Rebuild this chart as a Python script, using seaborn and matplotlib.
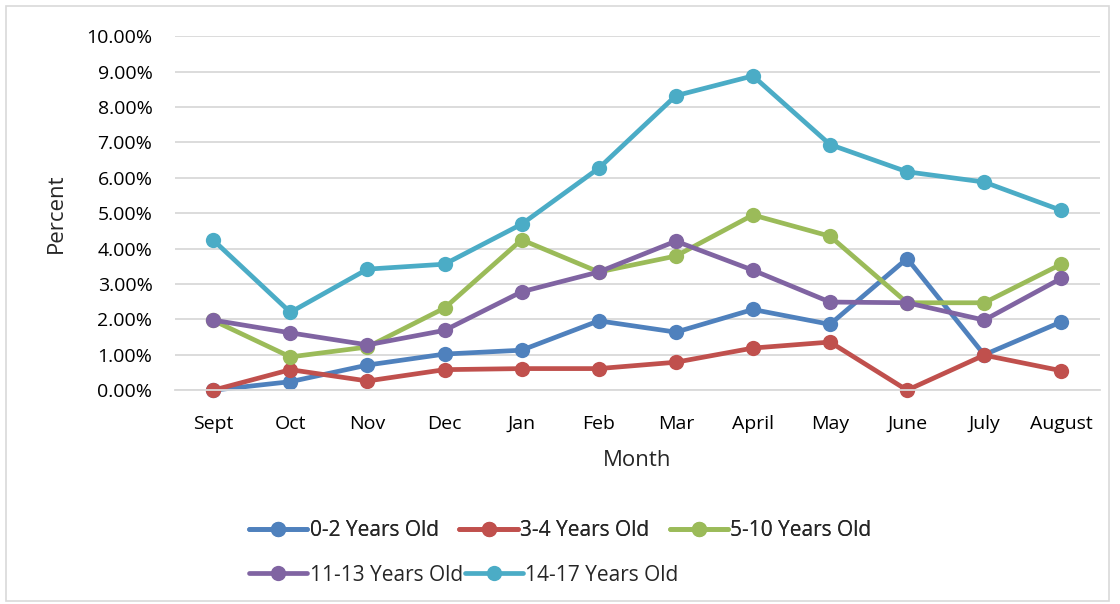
import matplotlib.pyplot as plt
import matplotlib.patches as patches
from matplotlib.lines import Line2D
from matplotlib.ticker import PercentFormatter
import seaborn as sns
import pandas as pd

months = ['Sept', 'Oct', 'Nov', 'Dec', 'Jan', 'Feb', 'Mar', 'April', 'May', 'June', 'July', 'August']
groups = ['0-2 Years Old', '3-4 Years Old', '5-10 Years Old', '11-13 Years Old', '14-17 Years Old']

age_0_2 = [0.00, 0.24, 0.71, 1.02, 1.13, 1.96, 1.64, 2.28, 1.86, 3.72, 1.00, 1.93]
age_3_4 = [0.00, 0.58, 0.26, 0.58, 0.61, 0.61, 0.79, 1.19, 1.36, 0.00, 0.99, 0.55]
age_5_10 = [1.97, 0.94, 1.22, 2.32, 4.25, 3.34, 3.79, 4.95, 4.35, 2.47, 2.47, 3.56]
age_11_13 = [1.98, 1.62, 1.28, 1.69, 2.78, 3.34, 4.21, 3.39, 2.49, 2.47, 1.98, 3.16]
age_14_17 = [4.24, 2.20, 3.42, 3.56, 4.69, 6.27, 8.32, 8.88, 6.94, 6.17, 5.88, 5.08]

colors = ['#4F81BD', '#C0504D', '#9BBB59', '#8064A2', '#4BACC6']

series = [age_0_2, age_3_4, age_5_10, age_11_13, age_14_17]
rows = []
for g, vals in zip(groups, series):
    for m, v in zip(months, vals):
        rows.append({'Month': m, 'Percent': v / 100, 'Group': g})
df = pd.DataFrame(rows)
df['Month'] = pd.Categorical(df['Month'], categories=months, ordered=True)

sns.set_style('white')
plt.rcParams['font.family'] = ['Open Sans', 'DejaVu Sans']

fig = plt.figure(figsize=(11.2, 6.04), dpi=100)
ax = fig.add_axes([0.156, 0.354, 0.826, 0.586])

sns.lineplot(data=df, x='Month', y='Percent', hue='Group', palette=colors,
             marker='o', markersize=11, markeredgewidth=0, linewidth=3.4,
             sort=False, legend=False, ax=ax)
for ln in ax.lines:
    ln.set_clip_on(False)

ax.set_xlim(-0.5, 11.5)
ax.set_ylim(0, 0.10)
ax.set_yticks([i / 100 for i in range(11)])
ax.yaxis.set_major_formatter(PercentFormatter(1.0, decimals=2))
ax.grid(axis='y', color='#d9d9d9', linewidth=1.3)
ax.set_axisbelow(True)
for s in ['top', 'right', 'left']:
    ax.spines[s].set_visible(False)
ax.spines['bottom'].set_color('#d9d9d9')
ax.spines['bottom'].set_linewidth(1.3)
ax.tick_params(axis='both', length=0, labelsize=14, colors='black')
ax.tick_params(axis='x', pad=18)
ax.tick_params(axis='y', pad=16)
ax.set_xlabel('Month', fontsize=16, labelpad=12)
ax.set_ylabel('Percent', fontsize=16, labelpad=14)

def handles(idx):
    return [Line2D([0], [0], color=colors[i], linewidth=3.4, marker='o',
                   markersize=11, markeredgewidth=0) for i in idx]

leg1 = fig.legend(handles(range(3)), groups[:3], ncol=3, frameon=False,
                  loc='center left', bbox_to_anchor=(0.215, 0.122),
                  fontsize=15, handlelength=2.8, handletextpad=0.1,
                  columnspacing=1.0, borderaxespad=0)
fig.add_artist(leg1)
fig.legend(handles(range(3, 5)), groups[3:], ncol=2, frameon=False,
           loc='center left', bbox_to_anchor=(0.215, 0.048),
           fontsize=15, handlelength=2.8, handletextpad=0.1,
           columnspacing=0.1, borderaxespad=0)

fig.add_artist(patches.Rectangle((0.005, 0.005), 0.985, 0.985,
                                 transform=fig.transFigure, fill=False,
                                 edgecolor='#d9d9d9', linewidth=1.2))

fig.savefig('out.png', dpi=100)
